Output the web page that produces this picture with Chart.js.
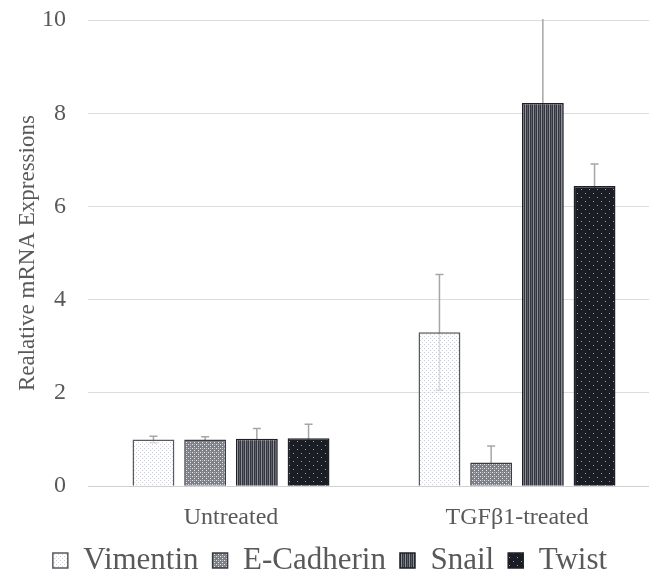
<!DOCTYPE html>
<html>
<head>
<meta charset="utf-8">
<script src="https://cdn.jsdelivr.net/npm/chart.js@4"></script>
<style>
  html, body { margin: 0; padding: 0; background: #fff; overflow: hidden; }
  #wrap { width: 670px; height: 574px; }
</style>
</head>
<body>
<div id="wrap"><canvas id="chart" width="670" height="574"></canvas></div>
<script>
// data
const categories = ['Untreated', 'TGFβ1-treated'];
const vimentin = [1.00, 3.30];
const vimentinErr = [0.07, 1.24];
const eCadherin = [1.00, 0.51];
const eCadherinErr = [0.06, 0.35];
const snail = [1.02, 8.22];
const snailErr = [0.22, 2.10];
const twist = [1.03, 6.44];
const twistErr = [0.30, 0.47];
const yTicks = [0, 2, 4, 6, 8, 10];

const FONT = '"Liberation Serif", "Times New Roman", serif';
const TEXT = '#595959';

// small pattern fills like the excel ones
const makePattern = (size, draw) => {
  const c = document.createElement('canvas');
  c.width = size; c.height = size;
  const g = c.getContext('2d');
  draw(g, size);
  return c.getContext('2d').createPattern(c, 'repeat');
};

const vimentinFill = makePattern(4, (g) => {
  g.fillStyle = 'rgba(255,255,255,0.6)';
  g.fillRect(0, 0, 4, 4);
  g.fillStyle = 'rgba(190,192,200,0.8)';
  g.fillRect(0, 0, 1, 1);
  g.fillRect(2, 2, 1, 1);
});
const eCadherinFill = makePattern(4, (g) => {
  g.fillStyle = '#7d818a';
  g.fillRect(0, 0, 4, 4);
  g.fillStyle = '#e6e7ea';
  g.fillRect(0, 0, 1, 1);
  g.fillRect(2, 2, 1, 1);
  g.fillStyle = '#b4b7bd';
  g.fillRect(2, 0, 1, 1);
});
const snailFill = makePattern(4, (g) => {
  g.fillStyle = '#33363e';
  g.fillRect(0, 0, 4, 4);
  g.fillStyle = '#8c8f97';
  g.fillRect(1, 0, 1, 4);
  g.fillStyle = '#5e616a';
  g.fillRect(3, 0, 1, 4);
});
const twistFill = makePattern(8, (g) => {
  g.fillStyle = '#1b1d24';
  g.fillRect(0, 0, 8, 8);
  g.fillStyle = '#9a9ca3';
  g.fillRect(1, 1, 1, 1);
  g.fillRect(5, 5, 1, 1);
});

const errorBars = {
  id: 'errorBars',
  beforeDatasetsDraw(chart) {
    const ctx = chart.ctx;
    const y = chart.scales.y;
    const area = chart.chartArea;
    ctx.save();
    ctx.beginPath();
    ctx.rect(area.left, area.top - 1, area.right - area.left, area.bottom - area.top + 1);
    ctx.clip();
    ctx.strokeStyle = '#a6a6a6';
    ctx.lineWidth = 1.5;
    chart.data.datasets.forEach((ds, i) => {
      const meta = chart.getDatasetMeta(i);
      meta.data.forEach((bar, j) => {
        const v = ds.data[j], e = ds.err[j];
        const top = y.getPixelForValue(v + e);
        const bot = y.getPixelForValue(v - e);
        ctx.beginPath();
        ctx.moveTo(bar.x, top); ctx.lineTo(bar.x, bot);
        ctx.moveTo(bar.x - 4, top); ctx.lineTo(bar.x + 4, top);
        ctx.moveTo(bar.x - 4, bot); ctx.lineTo(bar.x + 4, bot);
        ctx.stroke();
      });
    });
    ctx.restore();
  }
};

const mkSet = (label, data, err, fill, border) => ({
  label, data, err,
  backgroundColor: fill,
  borderColor: border,
  borderWidth: 1.5,
  categoryPercentage: 0.723,
  barPercentage: 0.81
});

new Chart(document.getElementById('chart'), {
  type: 'bar',
  data: {
    labels: categories,
    datasets: [
      mkSet('Vimentin', vimentin, vimentinErr, vimentinFill, '#5a5a5a'),
      mkSet('E-Cadherin', eCadherin, eCadherinErr, eCadherinFill, '#3a3c42'),
      mkSet('Snail', snail, snailErr, snailFill, '#1e2026'),
      mkSet('Twist', twist, twistErr, twistFill, '#1e2026')
    ]
  },
  options: {
    responsive: false,
    animation: false,
    layout: { padding: { top: 20, left: 0, right: 10, bottom: -12 } },
    plugins: {
      tooltip: { enabled: false },
      legend: {
        position: 'bottom',
        labels: {
          color: TEXT,
          font: { family: FONT, size: 31 },
          boxWidth: 15,
          boxHeight: 15,
          padding: 14
        }
      }
    },
    scales: {
      x: {
        grid: { display: false },
        border: { color: '#d0d0d0', width: 1 },
        ticks: { color: TEXT, font: { family: FONT, size: 24 }, padding: 9 },
        afterFit(axis) { axis.height = axis.height - 10; }
      },
      y: {
        min: 0,
        max: 10,
        afterBuildTicks(axis) { axis.ticks = yTicks.map(v => ({ value: v })); },
        afterFit(axis) { axis.width = 88; },
        grid: { color: '#dcdcdc', drawTicks: true, tickLength: 20, tickColor: 'rgba(0,0,0,0)' },
        border: { display: false },
        ticks: { color: TEXT, font: { family: FONT, size: 24 }, padding: 2 },
        title: {
          display: true,
          text: 'Realative mRNA Expressions',
          color: TEXT,
          font: { family: FONT, size: 23 },
          padding: { top: 14, bottom: 0 }
        }
      }
    }
  },
  plugins: [errorBars]
});
</script>
</body>
</html>
